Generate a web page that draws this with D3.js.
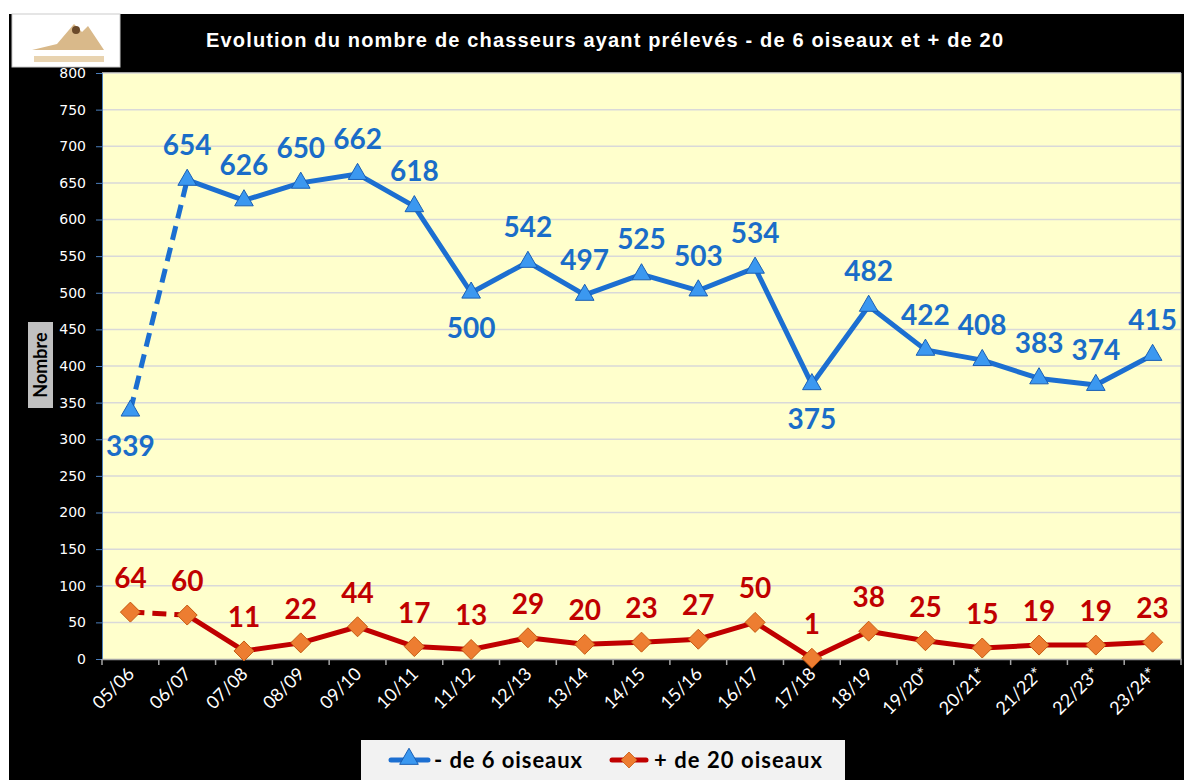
<!DOCTYPE html>
<html>
<head>
<meta charset="utf-8">
<script src="https://cdn.jsdelivr.net/npm/d3@7"></script>
<style>
  body { margin: 0; background: #fff; }
  svg { display: block; }
</style>
</head>
<body>
<div id="chart"></div>
<script>
const seasons = ["05/06", "06/07", "07/08", "08/09", "09/10", "10/11", "11/12", "12/13", "13/14", "14/15",
  "15/16", "16/17", "17/18", "18/19", "19/20*", "20/21*", "21/22*", "22/23*", "23/24*"];
const moins6 = [339, 654, 626, 650, 662, 618, 500, 542, 497, 525, 503, 534, 375, 482, 422, 408, 383, 374, 415];
const plus20 = [64, 60, 11, 22, 44, 17, 13, 29, 20, 23, 27, 50, 1, 38, 25, 15, 19, 19, 23];
// labels drawn under the point for these seasons
const belowLabels = ["05/06", "11/12", "17/18"];
const yTicks = d3.range(0, 801, 50);

const W = 1184, H = 780;
const svg = d3.select("#chart").append("svg").attr("width", W).attr("height", H);

// black frame
svg.append("rect").attr("x", 9).attr("y", 14).attr("width", W - 9).attr("height", H - 14).attr("fill", "#000");

// logo
const logo = svg.append("g").attr("transform", "translate(12,14)");
logo.append("rect").attr("width", 108).attr("height", 53).attr("fill", "#fff").attr("stroke", "#ccc");
logo.append("path").attr("d", "M20,36 L45,30 L62,10 L70,18 L76,12 L92,36 Z").attr("fill", "#d9b98a");
logo.append("circle").attr("cx", 64).attr("cy", 16).attr("r", 4).attr("fill", "#6b4a2a");
logo.append("rect").attr("x", 22).attr("y", 42).attr("width", 70).attr("height", 6).attr("fill", "#e8d3b0");

// title
svg.append("text").attr("x", 206).attr("y", 47)
  .attr("textLength", 797).attr("lengthAdjust", "spacing")
  .attr("font-family", "Liberation Sans, Arial, sans-serif").attr("font-weight", "bold")
  .attr("font-size", 20).attr("fill", "#fff").text("Evolution du nombre de chasseurs ayant prélevés - de 6 oiseaux et + de 20");

const pLeft = 102, pRight = 1181, pTop = 73, pBottom = 659;
const x = d3.scaleBand().domain(seasons).range([pLeft, pRight]);
const y = d3.scaleLinear().domain([0, 800]).range([pBottom, pTop]);
const cx = (s) => x(s) + x.bandwidth() / 2;

svg.append("rect").attr("x", pLeft).attr("y", pTop).attr("width", pRight - pLeft).attr("height", pBottom - pTop)
  .attr("fill", "#ffffcc");

// grid
svg.append("g").selectAll("line").data(yTicks.slice(1)).join("line")
  .attr("x1", pLeft).attr("x2", pRight).attr("y1", d => y(d)).attr("y2", d => y(d))
  .attr("stroke", "#d9d9d9").attr("stroke-width", 1.5);
svg.append("line").attr("x1", pRight).attr("x2", pRight).attr("y1", pTop).attr("y2", pBottom)
  .attr("stroke", "#bfbfbf");

// y axis
const yAxis = svg.append("g").attr("transform", `translate(${pLeft},0)`)
  .call(d3.axisLeft(y).tickValues(yTicks).tickSize(6).tickPadding(10));
yAxis.select(".domain").attr("stroke", "#4a7ebb");
yAxis.selectAll(".tick line").attr("stroke", "#4a7ebb");
yAxis.selectAll("text").attr("fill", "#fff").attr("font-size", 14)
  .attr("font-family", "DejaVu Sans, sans-serif");

// x axis
const xAxis = svg.append("g").attr("transform", `translate(0,${pBottom})`)
  .call(d3.axisBottom(x).tickSize(0).tickFormat(""));
xAxis.select(".domain").attr("stroke", "#a6a6a6").attr("stroke-width", 1.5);
svg.append("g").selectAll("line").data(seasons.concat([null])).join("line")
  .attr("x1", (d, i) => pLeft + i * x.step()).attr("x2", (d, i) => pLeft + i * x.step())
  .attr("y1", pBottom).attr("y2", pBottom + 6).attr("stroke", "#a6a6a6").attr("stroke-width", 1.5);
svg.append("g").selectAll("text").data(seasons).join("text")
  .attr("transform", d => `translate(${cx(d) + 5},${pBottom + 16}) rotate(-45)`)
  .attr("text-anchor", "end").attr("fill", "#fff").attr("font-size", 18)
  .attr("font-family", "Lato, sans-serif").text(d => d);

// y title
svg.append("rect").attr("x", 28).attr("y", 322).attr("width", 25).attr("height", 86).attr("fill", "#c0c0c0");
svg.append("text").attr("transform", "translate(47,365) rotate(-90)").attr("text-anchor", "middle")
  .attr("font-family", "Lato, sans-serif").attr("font-weight", "bold").attr("font-size", 18)
  .attr("fill", "#000").text("Nombre");

function drawSeries(vals, color, markerFill, markerStroke, symbol, labelColor, labelDy) {
  const pts = seasons.map((s, i) => ({ s, v: vals[i] }));
  const line = d3.line().x(d => cx(d.s)).y(d => y(d.v));
  svg.append("path").datum(pts.slice(0, 2)).attr("d", line).attr("fill", "none")
    .attr("stroke", color).attr("stroke-width", 5).attr("stroke-dasharray", "14,8");
  svg.append("path").datum(pts.slice(1)).attr("d", line).attr("fill", "none")
    .attr("stroke", color).attr("stroke-width", 5).attr("stroke-linejoin", "round");
  svg.append("g").selectAll("path").data(pts).join("path")
    .attr("transform", d => `translate(${cx(d.s)},${y(d.v)})`)
    .attr("d", symbol).attr("fill", markerFill).attr("stroke", markerStroke).attr("stroke-width", 1);
  svg.append("g").selectAll("text").data(pts).join("text")
    .attr("x", d => cx(d.s)).attr("y", d => y(d.v) + labelDy(d))
    .attr("text-anchor", "middle").attr("font-family", "Lato, sans-serif").attr("font-weight", "bold")
    .attr("font-size", 28).attr("fill", labelColor).text(d => d.v);
}

const tri = d3.symbol().type(d3.symbolTriangle).size(150)();
const dia = "M0,-10L10,0L0,10L-10,0Z";
drawSeries(moins6, "#1c6fd1", "#3b98f0", "#1a5fb4", tri, "#1a6dc8",
  d => belowLabels.includes(d.s) ? 45 : -25);
drawSeries(plus20, "#c00000", "#ed7d31", "#c55a11", dia, "#c00000", d => -24);

// legend
const lg = svg.append("g");
lg.append("rect").attr("x", 361).attr("y", 740).attr("width", 484).attr("height", 42).attr("fill", "#f2f2f2");
lg.append("line").attr("x1", 391).attr("x2", 428).attr("y1", 760).attr("y2", 760)
  .attr("stroke", "#1c6fd1").attr("stroke-width", 5).attr("stroke-linecap", "round");
lg.append("path").attr("transform", "translate(409,759)").attr("d", tri)
  .attr("fill", "#3b98f0").attr("stroke", "#1a5fb4");
lg.append("text").attr("x", 434).attr("y", 768).attr("textLength", 148).attr("lengthAdjust", "spacing")
  .attr("font-family", "Lato, sans-serif").attr("font-weight", "bold")
  .attr("font-size", 22).attr("fill", "#000").text("- de 6 oiseaux");
lg.append("line").attr("x1", 612).attr("x2", 646).attr("y1", 760).attr("y2", 760)
  .attr("stroke", "#c00000").attr("stroke-width", 5).attr("stroke-linecap", "round");
lg.append("path").attr("transform", "translate(629,760) scale(0.8)").attr("d", dia)
  .attr("fill", "#ed7d31").attr("stroke", "#c55a11");
lg.append("text").attr("x", 654).attr("y", 768).attr("textLength", 168).attr("lengthAdjust", "spacing")
  .attr("font-family", "Lato, sans-serif").attr("font-weight", "bold")
  .attr("font-size", 22).attr("fill", "#000").text("+ de 20 oiseaux");
</script>
</body>
</html>
